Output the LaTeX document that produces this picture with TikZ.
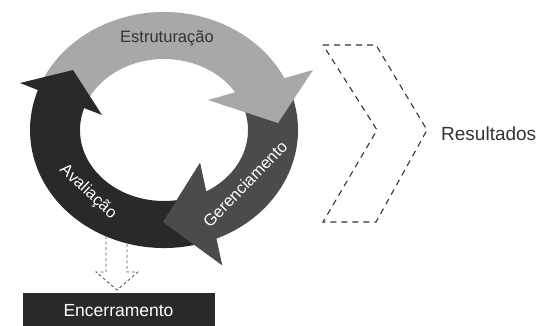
\documentclass[tikz,border=0pt]{standalone}
\usepackage{fontspec}
\setmainfont{Liberation Sans}
\usetikzlibrary{calc}
\definecolor{lightarrow}{HTML}{A8A8A8}
\definecolor{midarrow}{HTML}{4B4B4D}
\definecolor{darkarrow}{HTML}{2A292A}
\definecolor{textdark}{HTML}{333333}
\begin{document}
\begin{tikzpicture}[x=1pt,y=-1pt,
  lbl/.style={font=\fontsize{16.5}{18}\selectfont, inner sep=0pt},
  outline/.style={draw=textdark, line width=1.1pt, dash pattern=on 6pt off 5pt},
  downdash/.style={draw=textdark!80, line width=0.9pt, dash pattern=on 3pt off 2.5pt},
  boxst/.style={fill=darkarrow, inner sep=0pt, minimum width=192pt, minimum height=36pt}
]
\useasboundingbox (0,0) rectangle (537,325);
\coordinate (C) at (164,130);
% dashed outline arrow down to the closing box
\coordinate (dl) at (106,225);
\coordinate (dr) at (127,225);
\coordinate (dtip) at (117,290);
\draw[downdash] (dl) -- (106,272) -- (96,272) -- (dtip) -- (138,272) -- (127,272) -- (dr);
% Gerenciamento (mid grey)
\fill[midarrow] ($(C)+(18:134pt and 118pt)$) arc[start angle=18, end angle=-67, x radius=134pt, y radius=118pt]
  -- (222,265) -- (163,222) -- (200,163)
  -- ($(C)+(-59.9:84pt and 71pt)$) arc[start angle=-59.9, end angle=18, x radius=84pt, y radius=71pt] -- cycle;
% Estruturacao (light grey)
\fill[lightarrow] ($(C)+(158:134pt and 118pt)$) arc[start angle=158, end angle=26.05, x radius=134pt, y radius=118pt]
  -- (313,70) -- (278,123) -- (208,100)
  -- ($(C)+(32.1:84pt and 71pt)$) arc[start angle=32.1, end angle=158, x radius=84pt, y radius=71pt] -- cycle;
% Avaliacao (dark)
\fill[darkarrow] ($(C)+(-75:134pt and 118pt)$) arc[start angle=-75, end angle=-199.8, x radius=134pt, y radius=118pt]
  -- (20,83) -- (73,70) -- (102,115)
  -- ($(C)+(-198:84pt and 71pt)$) arc[start angle=-198, end angle=-75, x radius=84pt, y radius=71pt] -- cycle;
% Gerenciamento head on top
\fill[midarrow] (222,265) -- (163,222) -- (200,163) -- cycle;
% labels
\node[lbl, text=textdark] (estr) at (167,38) {Estruturação};
\node[lbl, text=white, rotate=-43] (aval) at (88,192) {Avaliação};
\node[lbl, text=white, rotate=46] (ger) at (245,184) {Gerenciamento};
% results chevron
\draw[outline] (323,45) -- (376,45) -- (427,130) -- (376,222) -- (323,222) -- (377,130) -- cycle;
\node[lbl, font=\fontsize{19}{21}\selectfont, text=textdark, anchor=base west] (res) at (441,140) {Resultados};
% closing box
\node[boxst, text=white, font=\fontsize{17.5}{19}\selectfont] (enc) at (118.5,311) {Encerramento};
\end{tikzpicture}
\end{document}
